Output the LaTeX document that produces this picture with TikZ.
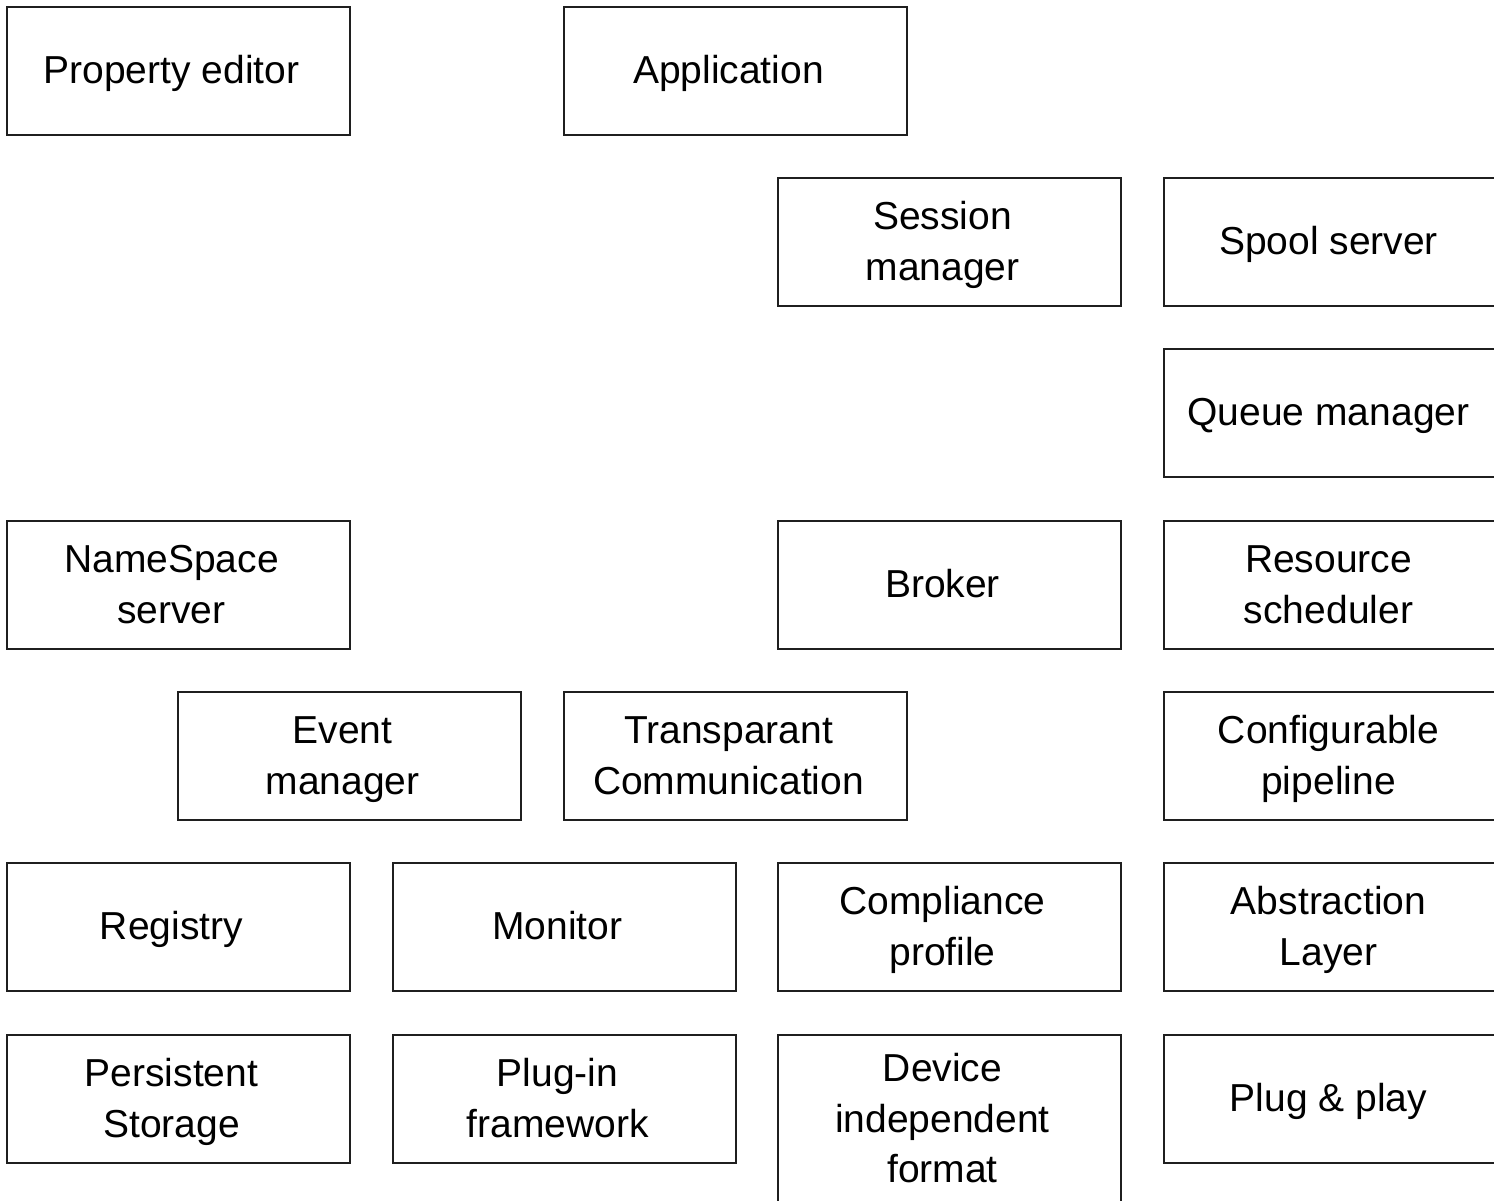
\documentclass[tikz,border=0pt]{standalone}
\usepackage{fontspec}
\setmainfont{Liberation Sans}
\usetikzlibrary{calc}

\tikzset{
  modbox/.style={draw=black!88, line width=1.5pt, rectangle, inner sep=0pt,
    minimum width=343pt},
  modtext/.style={align=center, inner sep=0pt, anchor=base,
    font=\fontsize{39}{50.5}\selectfont}
}

% #1 name, #2 left edge, #3 top edge, #4 box height,
% #5 offset of the last baseline below the box centre, #6 label
\newcommand\modulebox[6]{%
  \node[modbox, minimum height=#4pt] (#1) at (#2+171.5, #3+#4/2) {};
  \node[modtext] (#1-label) at ([shift={(-7,#5)}]#1.center) {#6};
}

\begin{document}
\begin{tikzpicture}[x=1pt, y=-1pt]
  \useasboundingbox (0,0) rectangle (1494,1200);
  \clip (0,0) rectangle (1494,1200);

  % top rows
  \modulebox{propedit}{7}{7}{128}{12.5}{Property editor}
  \modulebox{app}{564}{7}{128}{12.5}{Application}
  \modulebox{session}{778}{178}{128}{38}{Session\\manager}
  \modulebox{spool}{1164}{178}{128}{12.5}{Spool server}
  \modulebox{queue}{1164}{349}{128}{12.5}{Queue manager}

  % middle rows
  \modulebox{namespace}{7}{521}{128}{38}{NameSpace\\server}
  \modulebox{broker}{778}{521}{128}{12.5}{Broker}
  \modulebox{resource}{1164}{521}{128}{38}{Resource\\scheduler}
  \modulebox{event}{178}{692}{128}{38}{Event\\manager}
  \modulebox{transp}{564}{692}{128}{38}{Transparant\\Communication}
  \modulebox{pipeline}{1164}{692}{128}{38}{Configurable\\pipeline}

  % bottom rows
  \modulebox{registry}{7}{863}{128}{12.5}{Registry}
  \modulebox{monitor}{393}{863}{128}{12.5}{Monitor}
  \modulebox{compliance}{778}{863}{128}{38}{Compliance\\profile}
  \modulebox{abstraction}{1164}{863}{128}{38}{Abstraction\\Layer}
  \modulebox{persistent}{7}{1035}{128}{38}{Persistent\\Storage}
  \modulebox{plugin}{393}{1035}{128}{38}{Plug-in\\framework}
  \modulebox{device}{778}{1035}{170}{62.5}{Device\\independent\\format}
  \modulebox{plugplay}{1164}{1035}{128}{12.5}{Plug \& play}
\end{tikzpicture}
\end{document}
